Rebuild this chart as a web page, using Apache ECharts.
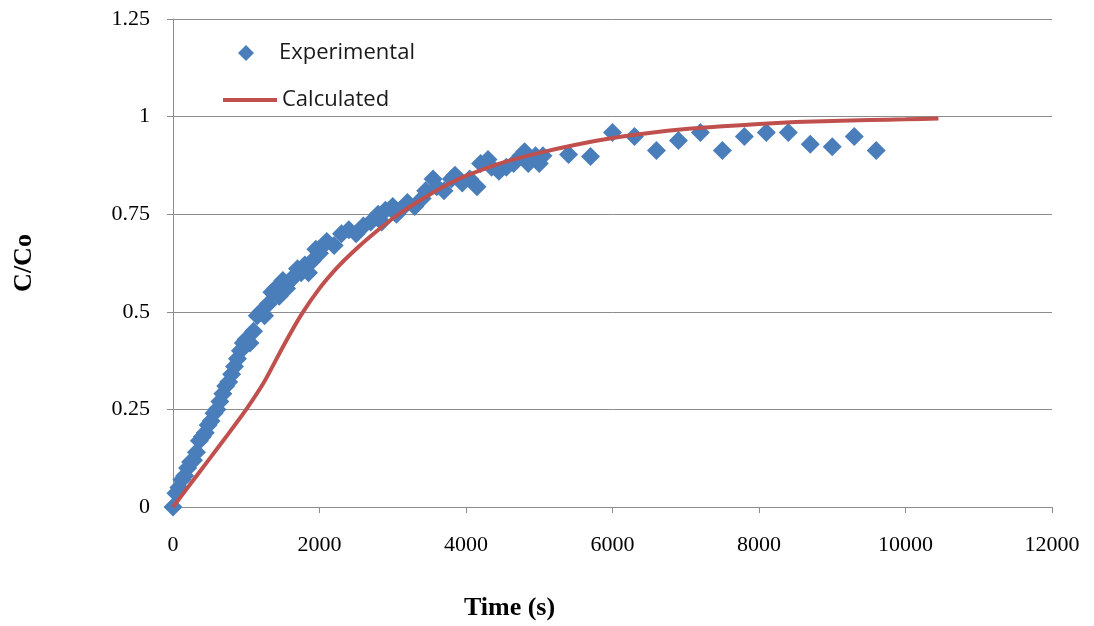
<!DOCTYPE html>
<html>
<head>
<meta charset="utf-8">
<script src="https://cdn.jsdelivr.net/npm/echarts@6/dist/echarts.min.js"></script>
<style>html,body{margin:0;padding:0;background:#fff}#chart{width:1094px;height:626px}</style>
</head>
<body>
<div id="chart"></div>
<script>
// Experimental data: time (s) and C/Co
const expTime = [0,40,80,120,160,200,240,280,320,360,400,440,480,520,560,600,640,680,720,760,800,840,880,920,960,1000,1050,1100,1150,1200,1250,1300,1350,1400,1450,1500,1550,1600,1650,1700,1750,1800,1850,1900,1950,2000,2050,2100,2200,2300,2400,2500,2600,2700,2800,2850,2900,3000,3050,3100,3200,3300,3400,3450,3550,3600,3700,3800,3850,3950,4050,4150,4200,4300,4350,4450,4550,4650,4750,4800,4850,4950,5000,5050,5400,5700,6000,6300,6600,6900,7200,7500,7800,8100,8400,8700,9000,9300,9600];
const expValue = [0,0.035,0.05,0.07,0.08,0.10,0.115,0.12,0.14,0.17,0.18,0.19,0.21,0.22,0.24,0.25,0.27,0.29,0.31,0.32,0.34,0.36,0.38,0.40,0.42,0.43,0.42,0.45,0.49,0.50,0.49,0.52,0.55,0.56,0.54,0.58,0.56,0.58,0.59,0.61,0.60,0.62,0.60,0.63,0.66,0.65,0.67,0.68,0.67,0.70,0.71,0.70,0.72,0.73,0.75,0.73,0.76,0.77,0.75,0.76,0.78,0.77,0.79,0.81,0.84,0.82,0.81,0.84,0.85,0.83,0.84,0.82,0.88,0.89,0.87,0.86,0.87,0.88,0.90,0.91,0.88,0.90,0.88,0.90,0.903,0.898,0.959,0.949,0.913,0.939,0.959,0.913,0.949,0.959,0.959,0.929,0.923,0.949,0.913];
// Calculated curve
const calcTime = [0,250,500,750,1000,1250,1500,1750,2000,2250,2500,2750,3000,3250,3500,3750,4000,4500,5000,5500,6000,6500,7000,7500,8000,8500,9000,9500,10000,10450];
const calcValue = [0,0.062,0.124,0.186,0.250,0.322,0.410,0.492,0.560,0.615,0.661,0.702,0.739,0.771,0.800,0.826,0.848,0.882,0.907,0.928,0.945,0.958,0.968,0.975,0.981,0.986,0.989,0.991,0.993,0.995];
const xTicks = [0,2000,4000,6000,8000,10000,12000];
const yTicks = [0,0.25,0.5,0.75,1,1.25];

const chart = echarts.init(document.getElementById('chart'));
const grey = '#8c8c8c';
const legendText = {fontFamily: 'Open Sans', fontSize: 22, color: '#1a1a1a'};
chart.setOption({
  animation: false,
  backgroundColor: '#fff',
  grid: {left: 173, right: 42, top: 19, bottom: 117},
  legend: [
    {
      left: 233, top: 37, itemWidth: 16, itemHeight: 16, icon: 'diamond',
      textStyle: Object.assign({padding: [0, 0, 0, 20]}, legendText),
      data: ['Experimental']
    },
    {
      left: 218, top: 84, itemWidth: 54, itemHeight: 4, icon: 'rect',
      textStyle: legendText,
      data: ['Calculated']
    }
  ],
  xAxis: {
    type: 'value', min: xTicks[0], max: xTicks[xTicks.length-1], interval: 2000,
    axisLine: {lineStyle: {color: grey, width: 1}},
    axisTick: {show: true, length: 6, lineStyle: {color: grey}},
    splitLine: {show: false},
    axisLabel: {margin: 27, color: '#000', fontFamily: 'Liberation Serif', fontSize: 22, formatter: v => String(v)},
    name: 'Time (s)', nameLocation: 'middle', nameGap: 88,
    nameTextStyle: {fontFamily: 'Liberation Serif', fontWeight: 'bold', fontSize: 26, color: '#000', padding: [0, 206, 0, 0]}
  },
  yAxis: {
    type: 'value', min: yTicks[0], max: yTicks[yTicks.length-1], interval: 0.25,
    axisLine: {show: true, lineStyle: {color: grey, width: 1}},
    axisTick: {show: true, length: 6, lineStyle: {color: grey}},
    splitLine: {show: true, lineStyle: {color: grey, width: 1}},
    axisLabel: {margin: 23, color: '#000', fontFamily: 'Liberation Serif', fontSize: 22},
    name: 'C/Co', nameLocation: 'middle', nameGap: 136,
    nameTextStyle: {fontFamily: 'Liberation Serif', fontWeight: 'bold', fontSize: 26, color: '#000'}
  },
  series: [
    {
      name: 'Experimental', type: 'scatter', symbol: 'diamond', symbolSize: 19,
      itemStyle: {color: '#4a7ebb', opacity: 1},
      clip: false,
      data: expTime.map((t, i) => [t, expValue[i]]),
      z: 2
    },
    {
      name: 'Calculated', type: 'line', smooth: 0.2, showSymbol: false, symbol: 'none',
      lineStyle: {color: '#c0504d', width: 4},
      itemStyle: {color: '#c0504d'},
      data: calcTime.map((t, i) => [t, calcValue[i]]),
      z: 3
    }
  ]
});
</script>
</body>
</html>
